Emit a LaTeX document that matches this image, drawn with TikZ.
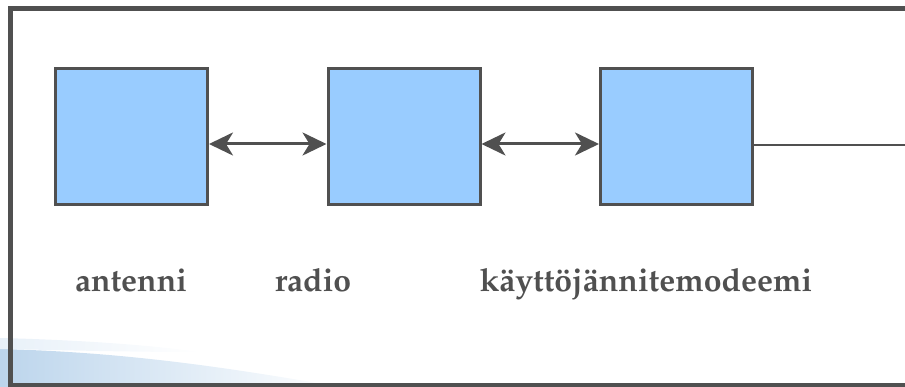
\documentclass[tikz,border=0pt]{standalone}
\usepackage[T1]{fontenc}
\usepackage{mathpazo}
\usetikzlibrary{arrows.meta}
\definecolor{framegray}{HTML}{505050}
\definecolor{boxblue}{HTML}{99CCFF}
\definecolor{swooshblue}{HTML}{BCD5EC}
\tikzset{
  blockbox/.style={draw=framegray, line width=3pt, fill=boxblue,
    minimum width=152pt, minimum height=136pt, inner sep=0pt},
  biarrow/.style={draw=framegray, line width=3pt,
    {Stealth[length=24pt,width=23pt,inset=7pt]}-{Stealth[length=24pt,width=23pt,inset=7pt]}},
  link/.style={draw=framegray, line width=2pt},
  caption/.style={anchor=base, text=framegray, inner sep=0pt,
    font=\fontsize{32}{38}\selectfont\bfseries}
}
\begin{document}
\begin{tikzpicture}[x=1pt,y=-1pt]
  \useasboundingbox (0,0) rectangle (905,387);
  % soft blue sweep in the lower left corner
  \shade[left color=swooshblue, right color=white]
    (0,349) .. controls (120,352) and (220,366) .. (340,387) -- (0,387) -- cycle;
  \shade[left color=swooshblue!35, right color=white]
    (0,338) .. controls (80,340) and (150,345) .. (200,352)
    .. controls (120,352) and (60,350) .. (0,349) -- cycle;
  % outer frame, open on the right
  \draw[framegray, line width=5pt] (920,8.5) -- (10.5,8.5) -- (10.5,385) -- (920,385);
  % blocks
  \node[blockbox] (b1) at (131.5,137) {};
  \node[blockbox] (b2) at (404,137) {};
  \node[blockbox] (b3) at (676.5,137) {};
  \coordinate (out) at (905,145);
  % connections
  \draw[biarrow] ([yshift=-7pt]b1.east) -- ([yshift=-7pt]b2.west);
  \draw[biarrow] ([yshift=-7pt]b2.east) -- ([yshift=-7pt]b3.west);
  \draw[link] ([yshift=-8pt]b3.east) -- (out);
  % captions
  \node[caption] (l1) at (131,292) {antenni};
  \node[caption] (l2) at (313,292) {radio};
  \node[caption] (l3) at (646,292) {k\"aytt\"oj\"annitemodeemi};
\end{tikzpicture}
\end{document}
